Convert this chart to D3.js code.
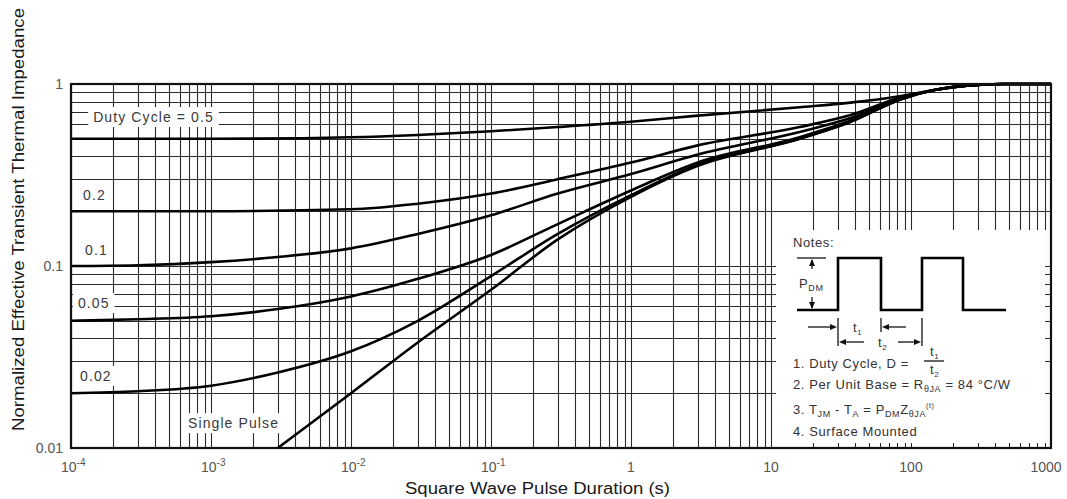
<!DOCTYPE html>
<html>
<head>
<meta charset="utf-8">
<script src="https://cdn.jsdelivr.net/npm/d3@7"></script>
<style>
  html, body { margin: 0; padding: 0; background: #fff; }
  svg { display: block; font-family: "Liberation Sans", Arial, sans-serif; }
</style>
</head>
<body>
<svg id="chart" width="1067" height="499"></svg>
<script>
// Transient thermal impedance curves: [pulse duration (s), normalized Z]
const duty05 = [[1e-4,0.5],[1e-3,0.5],[1e-2,0.51],[3e-2,0.525],[0.1,0.55],[0.3,0.58],[1,0.62],[3,0.67],[16,0.745],[37,0.79],[85,0.86],[150,0.93],[250,0.98],[450,1.0],[1000,1.0]];
const duty02 = [[1e-4,0.2],[1e-3,0.2],[1e-2,0.205],[3e-2,0.22],[0.1,0.25],[0.3,0.3],[1,0.37],[3,0.46],[16,0.58],[37,0.675],[85,0.845],[150,0.93],[250,0.98],[450,1.0],[1000,1.0]];
const duty01 = [[1e-4,0.1],[3e-4,0.101],[1e-3,0.105],[3e-3,0.112],[1e-2,0.125],[3e-2,0.15],[0.1,0.19],[0.3,0.25],[1,0.32],[3,0.41],[16,0.545],[37,0.65],[85,0.835],[150,0.93],[250,0.98],[450,1.0],[1000,1.0]];
const duty005 = [[1e-4,0.05],[3e-4,0.051],[1e-3,0.053],[3e-3,0.058],[1e-2,0.068],[3e-2,0.085],[0.1,0.115],[0.3,0.17],[1,0.26],[3,0.37],[16,0.51],[37,0.63],[85,0.83],[150,0.93],[250,0.98],[450,1.0],[1000,1.0]];
const duty002 = [[1e-4,0.02],[3e-4,0.0205],[1e-3,0.022],[3e-3,0.026],[1e-2,0.034],[3e-2,0.05],[0.1,0.088],[0.3,0.15],[1,0.245],[3,0.36],[16,0.5],[37,0.62],[85,0.825],[150,0.93],[250,0.98],[450,1.0],[1000,1.0]];
const singlePulse = [[3e-3,0.01],[1e-2,0.02],[3e-2,0.038],[0.1,0.074],[0.3,0.14],[1,0.24],[3,0.355],[16,0.5],[37,0.62],[85,0.825],[150,0.93],[250,0.98],[450,1.0],[1000,1.0]];

const curves = [duty05, duty02, duty01, duty005, duty002, singlePulse];
const curveLabels = ["Duty Cycle = 0.5", "0.2", "0.1", "0.05", "0.02", "Single Pulse"];
const curveLabelAt = [[1.44e-4,0.659],[1.22e-4,0.2455],[1.26e-4,0.1225],[1.12e-4,0.0626],[1.16e-4,0.0249],[6.85e-4,0.0137]];

const xTickExps = [-4,-3,-2,-1,0,1,2,3];
const xTickLabels = ["10","10","10","10","1","10","100","1000"];
const xTickSups = ["-4","-3","-2","-1","","","",""];
const yTicks = [1, 0.1, 0.01];
const yTickLabels = ["1", "0.1", "0.01"];

const xTitle = "Square Wave Pulse Duration (s)";
const yTitle = "Normalized Effective Transient Thermal Impedance";

const svg = d3.select("#chart");
const m = {left: 71, top: 84, right: 1051, bottom: 448};

const x = d3.scaleLog().domain([1e-4, 1000]).range([m.left, m.right]);
const y = d3.scaleLog().domain([0.01, 1]).range([m.bottom, m.top]);

// grid lines at every 1..9 step of each decade
const gx = [], gy = [];
for (let e = -4; e < 3; e++) for (let k = 1; k < 10; k++) gx.push(k * Math.pow(10, e));
for (let e = -2; e < 0; e++) for (let k = 1; k < 10; k++) gy.push(k * Math.pow(10, e));

const grid = svg.append("g").attr("stroke", "#2a2a2a").attr("stroke-width", 1.1);
grid.selectAll("line.v").data(gx).join("line")
  .attr("x1", d => Math.round(x(d)) + 0.5).attr("x2", d => Math.round(x(d)) + 0.5)
  .attr("y1", m.top).attr("y2", m.bottom);
grid.selectAll("line.h").data(gy).join("line")
  .attr("y1", d => Math.round(y(d)) + 0.5).attr("y2", d => Math.round(y(d)) + 0.5)
  .attr("x1", m.left).attr("x2", m.right);

// white panel for the notes
const notesBox = {x0: 776, y0: 230, x1: 1046, y1: 444};
svg.append("rect").attr("x", notesBox.x0).attr("y", notesBox.y0)
  .attr("width", notesBox.x1 - notesBox.x0).attr("height", notesBox.y1 - notesBox.y0)
  .attr("fill", "#fff");
// minor ticks along the right and bottom edges of the notes panel
svg.append("g").attr("stroke", "#2a2a2a").attr("stroke-width", 1)
  .selectAll("line").data(gy.filter(d => y(d) > notesBox.y0 && y(d) < notesBox.y1)).join("line")
  .attr("x1", m.right - 6).attr("x2", m.right)
  .attr("y1", d => Math.round(y(d)) + 0.5).attr("y2", d => Math.round(y(d)) + 0.5);
svg.append("g").attr("stroke", "#2a2a2a").attr("stroke-width", 1)
  .selectAll("line").data(gx.filter(d => x(d) > notesBox.x0 && x(d) < notesBox.x1)).join("line")
  .attr("x1", d => Math.round(x(d)) + 0.5).attr("x2", d => Math.round(x(d)) + 0.5)
  .attr("y1", m.bottom - 5).attr("y2", m.bottom);

// curve labels sit on white backing that interrupts the grid
const lab = svg.append("g").attr("font-size", 14).attr("fill", "#3a3a3a").attr("letter-spacing", 1.1);
curveLabels.forEach((t, i) => {
  const g = lab.append("g");
  const txt = g.append("text").attr("x", x(curveLabelAt[i][0])).attr("y", y(curveLabelAt[i][1]))
    .attr("dy", "0.36em").text(t);
  const bb = txt.node().getBBox();
  g.insert("rect", "text").attr("x", bb.x - 5).attr("y", bb.y - 2)
    .attr("width", bb.width + 10).attr("height", bb.height + 4).attr("fill", "#fff");
});

// curves
const line = d3.line().x(d => x(d[0])).y(d => y(d[1])).curve(d3.curveMonotoneX);
svg.append("g").attr("fill", "none").attr("stroke", "#000").attr("stroke-width", 2.6)
  .attr("stroke-linejoin", "round")
  .selectAll("path").data(curves).join("path").attr("d", line);

// frame
svg.append("rect").attr("x", m.left).attr("y", m.top)
  .attr("width", m.right - m.left).attr("height", m.bottom - m.top)
  .attr("fill", "none").attr("stroke", "#111").attr("stroke-width", 2.2);

// y tick labels
svg.append("g").attr("font-size", 14).attr("fill", "#555").attr("text-anchor", "end")
  .selectAll("text").data(yTicks).join("text")
  .attr("x", 63).attr("y", d => y(d)).attr("dy", "0.36em").text((d, i) => yTickLabels[i]);

// x tick labels
const xl = svg.append("g").attr("font-size", 14).attr("fill", "#555");
xTickExps.forEach((e, i) => {
  const px = x(Math.pow(10, e));
  if (xTickSups[i]) {
    const t = xl.append("text").attr("x", px - 10).attr("y", 472);
    t.append("tspan").text(xTickLabels[i]);
    t.append("tspan").attr("dy", -6).attr("font-size", 10).text(xTickSups[i]);
  } else {
    xl.append("text").attr("x", e === 3 ? px - 5 : px).attr("y", 472)
      .attr("text-anchor", "middle").text(xTickLabels[i]);
  }
});

// axis titles
svg.append("text").attr("x", 405).attr("y", 494)
  .attr("font-size", 16).attr("fill", "#1a1a1a")
  .attr("textLength", 265).attr("lengthAdjust", "spacingAndGlyphs").text(xTitle);
svg.append("text").attr("transform", "translate(24,431) rotate(-90)")
  .attr("font-size", 16.5).attr("fill", "#1a1a1a")
  .attr("textLength", 423).attr("lengthAdjust", "spacingAndGlyphs").text(yTitle);

// notes: pulse train sketch
const notes = svg.append("g").attr("fill", "#333").attr("font-size", 13).attr("letter-spacing", 0.6);
notes.append("text").attr("x", 793).attr("y", 247).text("Notes:");
const base = 310, high = 258;
const wave = [[797,base],[838,base],[838,high],[881,high],[881,base],[922,base],[922,high],[963,high],[963,base],[1006,base]];
svg.append("path").attr("d", d3.line()(wave)).attr("fill", "none").attr("stroke", "#000").attr("stroke-width", 2.6);

const ink = svg.append("g").attr("stroke", "#111").attr("stroke-width", 1.3).attr("fill", "none");
ink.append("line").attr("x1", 797).attr("x2", 826).attr("y1", high).attr("y2", high);
const arrow = (xp, yp, dir) => {
  const s = 3, l = 7;
  let pts;
  if (dir === "up") pts = [[xp, yp], [xp - s, yp + l], [xp + s, yp + l]];
  if (dir === "down") pts = [[xp, yp], [xp - s, yp - l], [xp + s, yp - l]];
  if (dir === "right") pts = [[xp, yp], [xp - l, yp - s], [xp - l, yp + s]];
  if (dir === "left") pts = [[xp, yp], [xp + l, yp - s], [xp + l, yp + s]];
  svg.append("path").attr("d", d3.line()(pts) + "Z").attr("fill", "#111");
};
ink.append("line").attr("x1", 812).attr("x2", 812).attr("y1", high + 2).attr("y2", high + 11);
arrow(812, high + 1, "up");
ink.append("line").attr("x1", 812).attr("x2", 812).attr("y1", base - 13).attr("y2", base - 2);
arrow(812, base - 1, "down");
const pdm = notes.append("text").attr("x", 799).attr("y", 288).text("P");
pdm.append("tspan").attr("font-size", 9).attr("dy", 3).text("DM");

// t1 / t2 dimension marks
ink.append("line").attr("x1", 838).attr("x2", 838).attr("y1", 318).attr("y2", 346);
ink.append("line").attr("x1", 881).attr("x2", 881).attr("y1", 318).attr("y2", 332);
ink.append("line").attr("x1", 922).attr("x2", 922).attr("y1", 318).attr("y2", 346);
ink.append("line").attr("x1", 808).attr("x2", 834).attr("y1", 327).attr("y2", 327);
arrow(837, 327, "right");
ink.append("line").attr("x1", 886).attr("x2", 906).attr("y1", 327).attr("y2", 327);
arrow(882, 327, "left");
ink.append("line").attr("x1", 842).attr("x2", 864).attr("y1", 342).attr("y2", 342);
arrow(839, 342, "left");
ink.append("line").attr("x1", 898).attr("x2", 918).attr("y1", 342).attr("y2", 342);
arrow(921, 342, "right");
const sub = (xp, yp, main, s) => {
  const t = notes.append("text").attr("x", xp).attr("y", yp).text(main);
  t.append("tspan").attr("font-size", 8).attr("dy", 3).text(s);
};
sub(853, 332, "t", "1");
sub(878, 347, "t", "2");

// notes text
notes.append("text").attr("x", 793).attr("y", 368).text("1. Duty Cycle, D =");
sub(930, 356, "t", "1");
ink.append("line").attr("x1", 924).attr("x2", 944).attr("y1", 361).attr("y2", 361);
sub(930, 374, "t", "2");

const n2 = notes.append("text").attr("x", 793).attr("y", 389);
n2.append("tspan").text("2. Per Unit Base = R");
n2.append("tspan").attr("font-size", 9).attr("dy", 3).text("θJA");
n2.append("tspan").attr("dy", -3).text(" = 84 °C/W");

const n3 = notes.append("text").attr("x", 793).attr("y", 414);
n3.append("tspan").text("3. T");
n3.append("tspan").attr("font-size", 9).attr("dy", 3).text("JM");
n3.append("tspan").attr("dy", -3).text(" - T");
n3.append("tspan").attr("font-size", 9).attr("dy", 3).text("A");
n3.append("tspan").attr("dy", -3).text(" = P");
n3.append("tspan").attr("font-size", 9).attr("dy", 3).text("DM");
n3.append("tspan").attr("dy", -3).text("Z");
n3.append("tspan").attr("font-size", 9).attr("dy", 3).text("θJA");
n3.append("tspan").attr("font-size", 7).attr("dy", -9).text("(t)");

notes.append("text").attr("x", 793).attr("y", 436).text("4. Surface Mounted");
</script>
</body>
</html>
